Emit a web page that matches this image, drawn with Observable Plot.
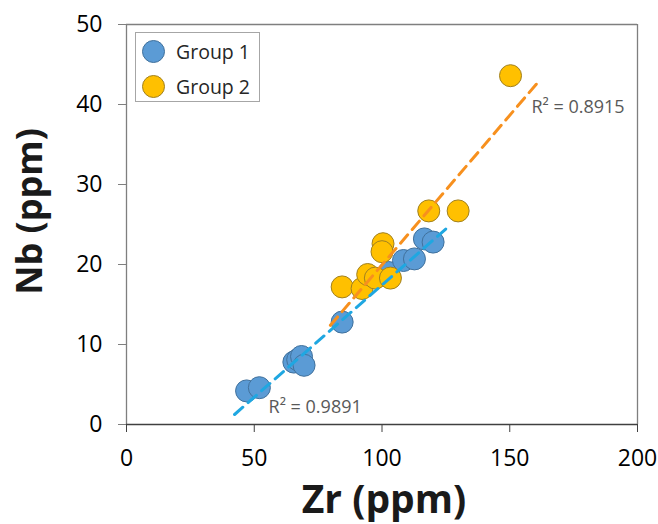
<!DOCTYPE html>
<html><head><meta charset="utf-8">
<script src="https://cdn.jsdelivr.net/npm/d3@7"></script>
<script src="https://cdn.jsdelivr.net/npm/@observablehq/plot@0.6"></script>
<style>
body{margin:0;background:#fff;}
#wrap{position:relative;width:658px;height:524px;font-family:"Open Sans",sans-serif;}
#legend{position:absolute;left:135px;top:32px;width:125px;height:70px;border:1px solid #a6a6a6;background:#fff;box-sizing:border-box;}
.li{position:absolute;left:6px;display:flex;align-items:center;font-size:19.5px;color:#262626;height:24px;}
.sw{width:23px;height:23px;border-radius:50%;box-sizing:border-box;margin-right:11px;}
</style></head>
<body><div id="wrap"><div id="chart"></div>
<div id="legend">
 <div class="li" style="top:6px"><div class="sw" style="background:#5b9bd5;border:1px solid #41719c"></div>Group 1</div>
 <div class="li" style="top:41px"><div class="sw" style="background:#ffc000;border:1px solid #a08020"></div>Group 2</div>
</div></div>
<script>
const g1Zr = [47, 52, 65.5, 67, 68.5, 69.5, 84.4, 102.6, 108.4, 112.7, 116.6, 120];
const g1Nb = [4.2, 4.6, 7.8, 8.1, 8.5, 7.4, 12.8, 19.0, 20.5, 20.7, 23.2, 22.8];
const g2Zr = [84.4, 92.2, 94.4, 97.4, 103.3, 100.4, 100, 118.3, 129.8, 150.3];
const g2Nb = [17.2, 17.0, 18.75, 18.3, 18.3, 22.6, 21.6, 26.7, 26.7, 43.6];
const trend1 = {zr: [42.3, 125.2], nb: [1.25, 24.5]};
const trend2 = {zr: [79.8, 161.9], nb: [12.4, 43.1]};
const labels = [
  {zr: 158.5, nb: 39.7, text: "R² = 0.8915"},
  {zr: 55.6, nb: 2.1, text: "R² = 0.9891"}
];
const xTicks = [0, 50, 100, 150, 200];
const yTicks = [0, 10, 20, 30, 40, 50];

const g1 = g1Zr.map((z, i) => ({zr: z, nb: g1Nb[i]}));
const g2 = g2Zr.map((z, i) => ({zr: z, nb: g2Nb[i]}));
const t1 = trend1.zr.map((z, i) => ({zr: z, nb: trend1.nb[i]}));
const t2 = trend2.zr.map((z, i) => ({zr: z, nb: trend2.nb[i]}));

const chart = Plot.plot({
  width: 658, height: 524,
  marginLeft: 126, marginRight: 21, marginTop: 24, marginBottom: 100,
  style: {fontFamily: "Open Sans, sans-serif", background: "#fff"},
  x: {domain: [0, 200]},
  y: {domain: [0, 50]},
  marks: [
    Plot.ruleY([50], {stroke: "#7f7f7f", strokeWidth: 1.3}),
    Plot.ruleX([200], {stroke: "#7f7f7f", strokeWidth: 1.3}),
    Plot.ruleX([0], {stroke: "#7f7f7f", strokeWidth: 1.3}),
    Plot.ruleY([0], {stroke: "#404040", strokeWidth: 1.3}),
    Plot.axisX({ticks: xTicks, tickSize: 8, tickPadding: 17, fontSize: 23, stroke: "#404040", color: "#000", label: null}),
    Plot.axisY({ticks: yTicks, tickSize: 8, tickPadding: 16, fontSize: 23, stroke: "#7f7f7f", color: "#000", label: null}),
    Plot.dot(g1, {x: "zr", y: "nb", r: 11, fill: "#5b9bd5", stroke: "#41719c", strokeWidth: 1}),
    Plot.dot(g2, {x: "zr", y: "nb", r: 11, fill: "#ffc000", stroke: "#a08020", strokeWidth: 1}),
    Plot.line(t1, {x: "zr", y: "nb", stroke: "#1fa7e1", strokeWidth: 3, strokeDasharray: "11,7"}),
    Plot.line(t2, {x: "zr", y: "nb", stroke: "#f7901e", strokeWidth: 3, strokeDasharray: "11,7"}),
    Plot.text(labels, {x: "zr", y: "nb", text: "text", textAnchor: "start", fontSize: 18, fill: "#595959"}),
    Plot.text(["Zr (ppm)"], {frameAnchor: "bottom", textAnchor: "middle", lineAnchor: "middle", dx: 2, dy: 76, fontSize: 39, fontWeight: "bold", fill: "#1a1a1a"}),
    Plot.text(["Nb (ppm)"], {frameAnchor: "left", textAnchor: "middle", lineAnchor: "middle", dx: -96, dy: -13, rotate: -90, fontSize: 36, fontWeight: "bold", fill: "#1a1a1a"})
  ]
});
document.getElementById("chart").appendChild(chart);
</script></body></html>
